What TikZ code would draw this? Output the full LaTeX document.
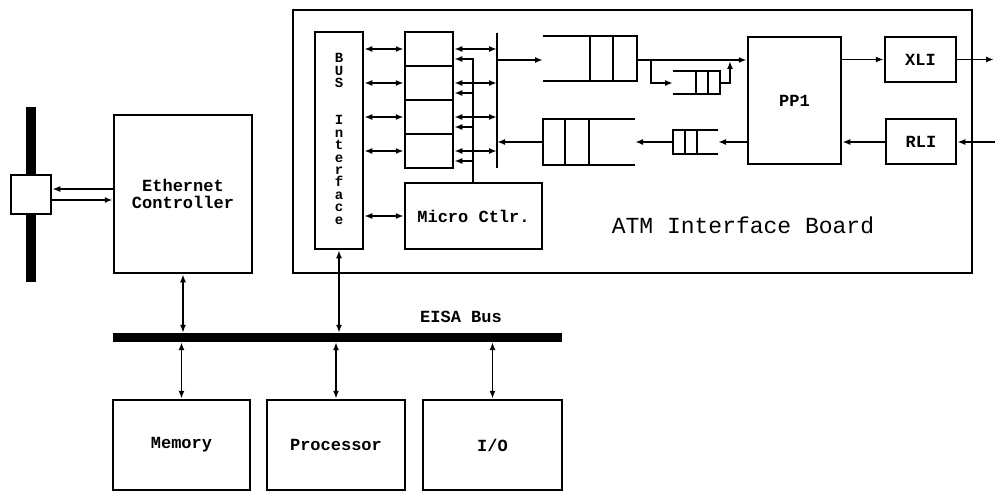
\documentclass[tikz,border=0pt]{standalone}
\usepackage{fontspec}
\newfontfamily\cour{Liberation Mono}
\usetikzlibrary{arrows.meta}
\begin{document}
\begin{tikzpicture}[x=1pt,y=-1pt,
  box/.style={draw,line width=2.5pt,inner sep=0pt,align=center,font=\cour\bfseries\fontsize{17}{17}\selectfont},
  lbl/.style={inner sep=0pt,font=\cour\bfseries\fontsize{17}{17}\selectfont},
  vlbl/.style={inner sep=0pt,align=center,font=\cour\bfseries\fontsize{14}{12.4}\selectfont},
  arr/.style={line width=1.8pt,-{Latex[length=8pt,width=6pt]}},
  biarr/.style={line width=1.8pt,{Latex[length=8pt,width=6pt]}-{Latex[length=8pt,width=6pt]}},
  qline/.style={line width=2.5pt},
  qdiv/.style={line width=2pt},
  bar/.style={fill=black,inner sep=0pt}]
\useasboundingbox (0,0) rectangle (995,492);

% ATM board
\node[box,minimum width=679,minimum height=263] (board) at (632.5,141.5) {};
\node[inner sep=0pt,font=\cour\fontsize{23}{23}\selectfont] (atmlbl) at (743,225) {ATM Interface Board};

% Ethernet side
\node[bar,minimum width=10,minimum height=175] (ebar) at (31,194.5) {};
\node[box,fill=white,minimum width=40,minimum height=39] (tap) at (31,194.5) {};
\node[box,minimum width=138,minimum height=158] (ethc) at (183,194) {Ethernet\\Controller};
\draw[arr] (ethc.west|-0,189) -- (tap.east|-0,189);
\draw[arr] (tap.east|-0,200) -- (ethc.west|-0,200);

% BUS interface
\node[box,minimum width=48,minimum height=217] (busif) at (339,140.5) {};
\node[vlbl] (busiflbl) at (339,139) {B\\U\\S\\[24.8pt]I\\n\\t\\e\\r\\f\\a\\c\\e};

% memory cells
\foreach \k/\yy in {1/49,2/83,3/117,4/151}
  \node[box,minimum width=48,minimum height=34] (c\k) at (429,\yy) {};
\foreach \k in {1,2,3,4}
  \draw[biarr] (busif.east|-c\k) -- (c\k.west);

% internal bus line
\coordinate (vtop) at (497,33);
\coordinate (vbot) at (497,168);
\draw[line width=2.2pt] (vtop) -- (vbot);
\foreach \k in {1,2,3,4}
  \draw[biarr] (c\k.east) -- (vtop|-c\k.east);

% micro controller
\node[box,minimum width=137,minimum height=66] (micro) at (473.5,216) {Micro Ctlr.};
\draw[biarr] (busif.east|-micro) -- (micro.west);
\coordinate (mtop) at (473,59);
\draw[arr] (micro.north-|mtop) -- (mtop) -- (c1.east|-mtop);
\foreach \yy in {93,127,161}
  \draw[arr] (mtop|-0,\yy) -- (c1.east|-0,\yy);

% upper input queue
\draw[qline] (543,36) -- (637,36) -- (637,81) -- (543,81);
\draw[qdiv] (590,36) -- (590,81) (613,36) -- (613,81);
\coordinate (q1in) at (543,60);
\coordinate (q1out) at (637,60);
% small upper queue
\draw[qline] (673,71) -- (720,71) -- (720,94) -- (673,94);
\draw[qdiv] (696,71) -- (696,94) (708,71) -- (708,94);
\coordinate (q2in) at (673,83);
\coordinate (q2out) at (720,83);
% lower queue
\draw[qline] (635,119) -- (543,119) -- (543,165) -- (635,165);
\draw[qdiv] (565,119) -- (565,165) (589,119) -- (589,165);
\coordinate (q3in) at (635,142);
\coordinate (q3out) at (543,142);
% small lower queue
\draw[qline] (718,130) -- (673,130) -- (673,154) -- (718,154);
\draw[qdiv] (685,130) -- (685,154) (697,130) -- (697,154);
\coordinate (q4in) at (718,142);
\coordinate (q4out) at (673,142);

% PP1, XLI, RLI
\node[box,minimum width=93,minimum height=127] (pp1) at (794.5,100.5) {PP1};
\node[box,minimum width=71,minimum height=45] (xli) at (920.5,59.5) {XLI};
\node[box,minimum width=70,minimum height=45] (rli) at (921,141.5) {RLI};

\draw[arr] (vtop|-q1in) -- (q1in);
\draw[arr] (q3out) -- (vtop|-q3out);
\draw[arr] (q1out) -- (pp1.west|-q1out);
\coordinate (br) at (651,60);
\draw[arr] (br) -- (br|-q2in) -- (q2in);
\coordinate (up) at (730,61);
\draw[arr] (q2out) -- (up|-q2out) -- (up);
\draw[arr] (pp1.east|-xli.west) -- (xli.west);
\coordinate (xout) at (994,59.5);
\draw[arr] (xli.east) -- (xout);
\coordinate (rin) at (995,142);
\draw[arr] (rin) -- (rli.east|-rin);
\draw[arr] (rli.west|-rin) -- (pp1.east|-rin);
\draw[arr] (pp1.west|-q4in) -- (q4in);
\draw[arr] (q4out) -- (q3in);

% EISA bus
\node[bar,minimum width=449,minimum height=9] (eisa) at (337.5,337.5) {};
\node[lbl] (eisalbl) at (461,317) {EISA Bus};
\draw[biarr] (ethc.south) -- (ethc.south|-eisa.north);
\draw[biarr] (busif.south) -- (busif.south|-eisa.north);

% lower boxes
\node[box,minimum width=137,minimum height=90] (mem) at (181.5,445) {Memory};
\node[box,minimum width=138,minimum height=90] (proc) at (336,445) {Processor};
\node[box,minimum width=139,minimum height=90] (io) at (492.5,445) {I/O};
\draw[biarr] (mem.north|-eisa.south) -- (mem.north);
\draw[biarr] (proc.north|-eisa.south) -- (proc.north);
\draw[biarr] (io.north|-eisa.south) -- (io.north);
\end{tikzpicture}
\end{document}
